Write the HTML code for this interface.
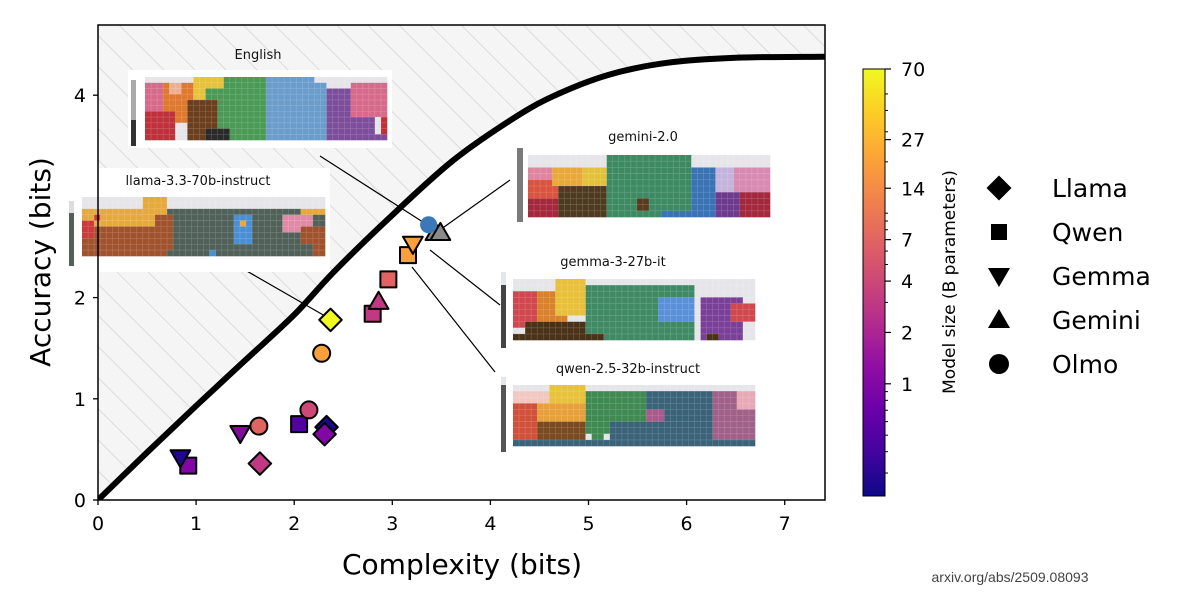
<!DOCTYPE html>
<html><head><meta charset="utf-8"><style>
html,body{margin:0;padding:0;background:#fff;}
svg{display:block;font-family:"DejaVu Sans","Liberation Sans",sans-serif;}
</style></head><body>
<svg id="chart" width="1200" height="610" viewBox="0 0 1200 610" xmlns="http://www.w3.org/2000/svg">
<defs>
<pattern id="hatch" patternUnits="userSpaceOnUse" width="22" height="22" patternTransform="rotate(-45)">
<rect width="22" height="22" fill="#f5f5f5"/><line x1="0" y1="0" x2="0" y2="22" stroke="#cfcfcf" stroke-width="1.3"/>
</pattern>
<linearGradient id="plasma" x1="0" y1="1" x2="0" y2="0">
<stop offset="0" stop-color="#0d0887"/><stop offset="0.1" stop-color="#41049d"/><stop offset="0.2" stop-color="#6a00a8"/><stop offset="0.3" stop-color="#8f0da4"/><stop offset="0.4" stop-color="#b12a90"/><stop offset="0.5" stop-color="#cc4778"/><stop offset="0.6" stop-color="#e16462"/><stop offset="0.7" stop-color="#f2844b"/><stop offset="0.8" stop-color="#fca636"/><stop offset="0.9" stop-color="#fcce25"/><stop offset="1" stop-color="#f0f921"/>
</linearGradient>
<clipPath id="plotclip"><rect x="98" y="25" width="727" height="475"/></clipPath>
</defs>
<g id="hatchg" clip-path="url(#plotclip)"></g>
<g id="curveg" clip-path="url(#plotclip)"></g>
<g id="leaders"></g>
<g id="insets"></g>
<g id="marks"></g>
<rect x="98" y="25" width="727" height="475" fill="none" stroke="#000" stroke-width="1.5"/>
<g id="axes"></g>
<text x="462" y="574" font-size="28" text-anchor="middle">Complexity (bits)</text>
<text transform="translate(50,262) rotate(-90)" font-size="28" text-anchor="middle">Accuracy (bits)</text>
<rect x="863" y="69" width="22" height="427" fill="url(#plasma)" stroke="#000" stroke-width="1"/>
<g id="cbticks"></g>
<text transform="translate(955,282) rotate(-90)" font-size="17" text-anchor="middle">Model size (B parameters)</text>
<g id="legend"></g>
<text x="1010" y="582" font-size="14" fill="#444" text-anchor="middle" font-family="Liberation Sans, sans-serif">arxiv.org/abs/2509.08093</text>
</svg>
<script>
const NS="http://www.w3.org/2000/svg";
// ---- data ----
const curveX=[0,0.5,1,1.5,2,2.4,2.95,3.6,4.2,4.64,5.2,5.8,6.5,7.4];
const curveY=[0,0.47,0.93,1.38,1.83,2.25,2.77,3.34,3.75,3.99,4.2,4.32,4.37,4.38];
const xTicks=[0,1,2,3,4,5,6,7];
const yTicks=[0,1,2,4];
const cbTicks=[70,27,14,7,4,2,1];
const modelFamily=["Llama","Llama","Llama","Llama","Qwen","Qwen","Qwen","Qwen","Qwen","Gemma","Gemma","Gemma","Gemini","Gemini","Gemini","Olmo","Olmo","Olmo","Olmo"];
const complexity=[2.33,2.31,1.65,2.37,0.92,2.05,2.80,2.96,3.16,0.84,1.45,3.21,2.86,3.44,3.49,3.37,2.28,2.15,1.64];
const accuracy=[0.72,0.65,0.36,1.78,0.34,0.75,1.84,2.18,2.42,0.42,0.66,2.53,1.96,2.64,2.64,2.72,1.45,0.89,0.73];
const modelSize=[0.25,1,3,70,1,0.5,3,7,20,0.27,1,20,3,null,null,null,20,4,7];
const fixedColor=[null,null,null,null,null,null,null,null,null,null,null,null,null,"#8a8a8a","#8a8a8a","#3a78b8",null,null,null];
const legendNames=["Llama","Qwen","Gemma","Gemini","Olmo"];
// ---- scales ----
const X0=98,X1=825,Y0=500,Y1=25;
const xs=v=>X0+v*98.1, ys=v=>Y0-v*101.2;
const cbMin=0.22,cbMax=70,cbTop=69,cbBot=496;
const cbT=s=>(Math.log(s)-Math.log(cbMin))/(Math.log(cbMax)-Math.log(cbMin));
const cbY=s=>cbBot-cbT(s)*(cbBot-cbTop);
const stops=["#0d0887","#41049d","#6a00a8","#8f0da4","#b12a90","#cc4778","#e16462","#f2844b","#fca636","#fcce25","#f0f921"];
function hex(h){return [1,3,5].map(i=>parseInt(h.substr(i,2),16));}
function plasma(t){t=Math.max(0,Math.min(1,t));const f=t*10,i=Math.min(9,Math.floor(f)),r=f-i;const a=hex(stops[i]),b=hex(stops[i+1]);return "rgb("+a.map((v,k)=>Math.round(v+(b[k]-v)*r)).join(",")+")";}
function el(tag,attrs,parent){const e=document.createElementNS(NS,tag);for(const k in attrs)e.setAttribute(k,attrs[k]);parent.appendChild(e);return e;}
// ---- hatch + smooth curve ----
const P=curveX.map((x,i)=>[xs(x),ys(curveY[i])]);
let d=`M${P[0][0]},${P[0][1]}`;
for(let i=0;i<P.length-1;i++){const p0=P[Math.max(0,i-1)],p1=P[i],p2=P[i+1],p3=P[Math.min(P.length-1,i+2)];
 d+=` C${p1[0]+(p2[0]-p0[0])/6},${p1[1]+(p2[1]-p0[1])/6} ${p2[0]-(p3[0]-p1[0])/6},${p2[1]-(p3[1]-p1[1])/6} ${p2[0]},${p2[1]}`;}
const last=P[P.length-1];
const hg=document.getElementById("hatchg");
el("path",{d:d+` L${last[0]+20},${last[1]} L840,15 L90,15 Z`,fill:"url(#hatch)"},hg);
const cg=document.getElementById("curveg");
const cl=el("path",{d:d+` L${last[0]+20},${last[1]}`,fill:"none",stroke:"#000","stroke-width":"6","stroke-linejoin":"round"},cg);


// ---- axes ----
const ax=document.getElementById("axes");
xTicks.forEach(t=>{
 const l=el("line",{x1:xs(t),x2:xs(t),y1:500,y2:505,stroke:"#000","stroke-width":"1.3"},ax);
 
 
 const tx=el("text",{x:xs(t),y:530,"font-size":"19","text-anchor":"middle"},ax);tx.textContent=t;
 
 
});
yTicks.forEach(t=>{
 const l=el("line",{x1:93,x2:98,y1:ys(t),y2:ys(t),stroke:"#000","stroke-width":"1.3"},ax);
 
 
 const tx=el("text",{x:86,y:ys(t)+7,"font-size":"19","text-anchor":"end"},ax);tx.textContent=t;
 
 
});
const cb=document.getElementById("cbticks");
cbTicks.forEach(t=>{
 const y=cbY(t);
 const l=el("line",{x1:885,x2:891,y1:y,y2:y,stroke:"#000","stroke-width":"1.2"},cb);
 
 
 const tx=el("text",{x:901,y:y+7,"font-size":"19"},cb);tx.textContent=t;
 
 
});
[50,40,30,20,10,9,8,6,5,3,0.9,0.8,0.7,0.6,0.5,0.4,0.3].forEach(t=>{const y=cbY(t);el("line",{x1:885,x2:888,y1:y,y2:y,stroke:"#000","stroke-width":"1"},cb);});
// ---- markers ----
function marker(fam,cx,cy,r,parent,attrs){
 let e;
 if(fam==="Llama") e=el("polygon",Object.assign({points:`${cx},${cy-r*1.25} ${cx+r*1.25},${cy} ${cx},${cy+r*1.25} ${cx-r*1.25},${cy}`},attrs),parent);
 else if(fam==="Qwen") e=el("rect",Object.assign({x:cx-r,y:cy-r,width:2*r,height:2*r},attrs),parent);
 else if(fam==="Gemma") e=el("polygon",Object.assign({points:`${cx-r*1.1},${cy-r*0.8} ${cx+r*1.1},${cy-r*0.8} ${cx},${cy+r*1.1}`},attrs),parent);
 else if(fam==="Gemini") e=el("polygon",Object.assign({points:`${cx-r*1.1},${cy+r*0.8} ${cx+r*1.1},${cy+r*0.8} ${cx},${cy-r*1.1}`},attrs),parent);
 else e=el("circle",Object.assign({cx:cx,cy:cy,r:r},attrs),parent);
 return e;
}
// ---- leaders ----
const ld=document.getElementById("leaders");
[[320,156,426,224],[437,232,510,180],[245,270,325,316],[430,250,500,305],[412,267,495,372]].forEach(s=>{
 const l=el("line",{x1:s[0],y1:s[1],x2:s[2],y2:s[3],stroke:"#000","stroke-width":"1.2"},ld);
 
 
});
// ---- insets (decorative heatmaps) ----
const ins=document.getElementById("insets");
function inset(name,title,tx,ty,box,grid,bar,cols,rows,blocks){
 const g=el("g",{},ins);
 
 
 if(box) el("rect",{x:box[0],y:box[1],width:box[2],height:box[3],fill:"#fff"},g);
 const t=el("text",{x:tx,y:ty,"font-size":"13","text-anchor":"middle",fill:"#111"},g);t.textContent=title;
 bar.forEach(b=>el("rect",{x:b[0],y:b[1],width:b[2],height:b[3],fill:b[4]},g));
 const [gx,gy,gw,gh]=grid,cw=gw/cols,rh=gh/rows;
 const cells=[];for(let r=0;r<rows;r++){cells.push(new Array(cols).fill("#e6e6ea"));}
 blocks.forEach(b=>{const c0=Math.round(b[0]*cols),c1=Math.round(b[1]*cols),r0=Math.round(b[2]*rows),r1=Math.round(b[3]*rows);
  for(let r=r0;r<r1;r++)for(let c=c0;c<c1;c++)if(r>=0&&r<rows&&c>=0&&c<cols)cells[r][c]=b[4];});
 for(let r=0;r<rows;r++){let c=0;while(c<cols){let e=c;while(e+1<cols&&cells[r][e+1]===cells[r][c])e++;
  el("rect",{x:gx+c*cw,y:gy+r*rh,width:(e-c+1)*cw+0.3,height:rh+0.3,fill:cells[r][c]},g);c=e+1;}}
 let gl="";for(let c=1;c<cols;c++)gl+=`M${gx+c*cw},${gy}v${gh}`;for(let r=1;r<rows;r++)gl+=`M${gx},${gy+r*rh}h${gw}`;
 el("path",{d:gl,stroke:"rgba(255,255,255,0.22)","stroke-width":"0.6",fill:"none"},g);
}
inset("english-inset","English",258,59,[128,70,264,78],[145,77,242,63],[[131,80,5,40,"#aaa"],[131,120,5,26,"#333"]],40,11,[
 [0.2,0.33,0,0.3,"#e6c33a"],[0.33,0.5,0,0.3,"#4a9a55"],[0.5,0.7,0,0.3,"#6a9ccc"],
 [0,0.08,0.1,0.5,"#d76a8a"],[0.08,0.2,0.1,0.7,"#e0782e"],[0.1,0.14,0.1,0.3,"#f0b090"],[0.2,0.3,0.1,0.4,"#e6c33a"],
 [0.25,0.6,0.2,1,"#4a9a55"],[0.17,0.3,0.4,1,"#6b3f1e"],[0,0.12,0.5,1,"#c0303a"],[0.25,0.36,0.85,1,"#2a2a2a"],
 [0.6,0.62,0.6,1,"#4a9a55"],[0.5,0.75,0.1,1,"#6a9ccc"],[0.75,0.95,0.2,1,"#7b4d9a"],[0.85,1,0.1,0.6,"#d76a8a"],[0.97,1,0.6,0.9,"#c0303a"],[0.95,1,0.9,1,"#7b4d9a"]]);
inset("llama-inset","llama-3.3-70b-instruct",198,185,[68,168,262,104],[82,197,243,59],[[69,201,5,12,"#ddd"],[69,213,5,53,"#4f6158"]],40,10,[
 [0,1,0.15,1,"#4f6158"],[0,0.35,0.15,0.5,"#e6a93e"],[0.25,0.35,0,0.2,"#e6a93e"],[0,0.3,0.5,1,"#a0522d"],[0,0.05,0.4,0.7,"#cc3b3b"],[0.04,0.08,0.25,0.35,"#cc3b3b"],
 [0.3,0.37,0.3,0.9,"#a0522d"],[0.2,0.35,0.8,1,"#a0522d"],[0.37,1,0.15,1,"#4f6158"],[0.63,0.7,0.3,0.8,"#4a8fd4"],[0.65,0.68,0.35,0.45,"#e6a93e"],[0.53,0.55,0.85,1,"#4a8fd4"],
 [0.83,0.95,0.25,0.55,"#e08aa8"],[0.9,1,0.15,0.25,"#e6a93e"],[0.9,1,0.5,0.8,"#a0522d"],[0.95,1,0.8,1,"#a0522d"]]);
inset("gemini-inset","gemini-2.0",643,141,null,[528,155,242,62],[[517,148,6,74,"#7a7a7a"]],40,10,[
 [0,0.1,0.2,0.4,"#e0859f"],[0,0.13,0.4,0.7,"#d9533e"],[0,0.13,0.7,1,"#a3283d"],[0.1,0.33,0.2,0.5,"#e8a93a"],[0.22,0.33,0.2,0.5,"#e2c23a"],
 [0.12,0.33,0.5,1,"#4e3a1e"],[0.33,0.68,0,1,"#3d8a62"],[0.45,0.5,0.65,0.85,"#5a3a1e"],[0.68,0.78,0.15,1,"#3a73b5"],[0.55,0.7,0.85,1,"#3a73b5"],
 [0.78,0.85,0.2,0.6,"#c4b4dc"],[0.78,0.87,0.6,1,"#6e3a8e"],[0.85,1,0.2,0.55,"#d88ab2"],[0.87,1,0.55,1,"#a3283d"]]);
inset("gemma-inset","gemma-3-27b-it",613,266,null,[513,279,242,61],[[501,272,5,13,"#e3e6ee"],[501,285,5,63,"#444"]],40,10,[
 [0,0.1,0.15,0.75,"#d0484e"],[0.1,0.22,0.15,0.65,"#d9822b"],[0.18,0.3,0,0.55,"#e8c03a"],[0.05,0.4,0.65,1,"#4a3218"],[0,0.05,0.85,1,"#4a3218"],
 [0.3,0.76,0.1,0.85,"#3f8a64"],[0.38,0.76,0.85,1,"#3f8a64"],[0.6,0.76,0.25,0.65,"#5a90d8"],[0.78,0.95,0.25,1,"#7a4098"],[0.9,1,0.35,0.7,"#d0484e"],[0.8,0.85,0.9,1,"#4a3218"]]);
inset("qwen-inset","qwen-2.5-32b-instruct",628,373,null,[513,385,242,61],[[501,377,5,8,"#e3e6ee"],[501,385,5,67,"#555"]],40,10,[
 [0,0.22,0.1,0.3,"#f0c8c0"],[0.15,0.3,0,0.4,"#e8c23a"],[0,0.1,0.25,0.85,"#d0503a"],[0.1,0.3,0.25,0.55,"#e8a03a"],[0.1,0.3,0.55,0.85,"#7a4a20"],
 [0.3,0.55,0.1,0.8,"#3f8a52"],[0.55,0.83,0.1,1,"#3a6278"],[0.4,0.6,0.6,1,"#3a6278"],[0.32,0.38,0.8,1,"#3f8a52"],[0.55,0.62,0.35,0.6,"#a85a8a"],
 [0.83,1,0.1,1,"#a06088"],[0.92,1,0.1,0.4,"#e8a8b8"],[0,1,0.88,1,"#3a6278"]]);
// ---- data marks ----
const mk=document.getElementById("marks");
complexity.forEach((c,i)=>{
 const fill=fixedColor[i]||plasma(cbT(modelSize[i]));
 const fam=modelFamily[i];
 const sw=(fam==="Olmo"&&fixedColor[i])?0:2;
 const m=marker(fam,xs(c),ys(accuracy[i]),fam==="Olmo"?8.5:(fam==="Qwen"?8:9),mk,{fill:fill,stroke:"#000","stroke-width":sw,"stroke-linejoin":"round"});
 
 
});
// ---- legend ----
const lg=document.getElementById("legend");
legendNames.forEach((n,i)=>{
 const y=188+i*44;
 const m=marker(n,999,y,n==="Qwen"?8:10,lg,{fill:"#000"});
 
 
 const t=el("text",{x:1052,y:y+9,"font-size":"25"},lg);t.textContent=n;
 
 
});
</script>
</body></html>
